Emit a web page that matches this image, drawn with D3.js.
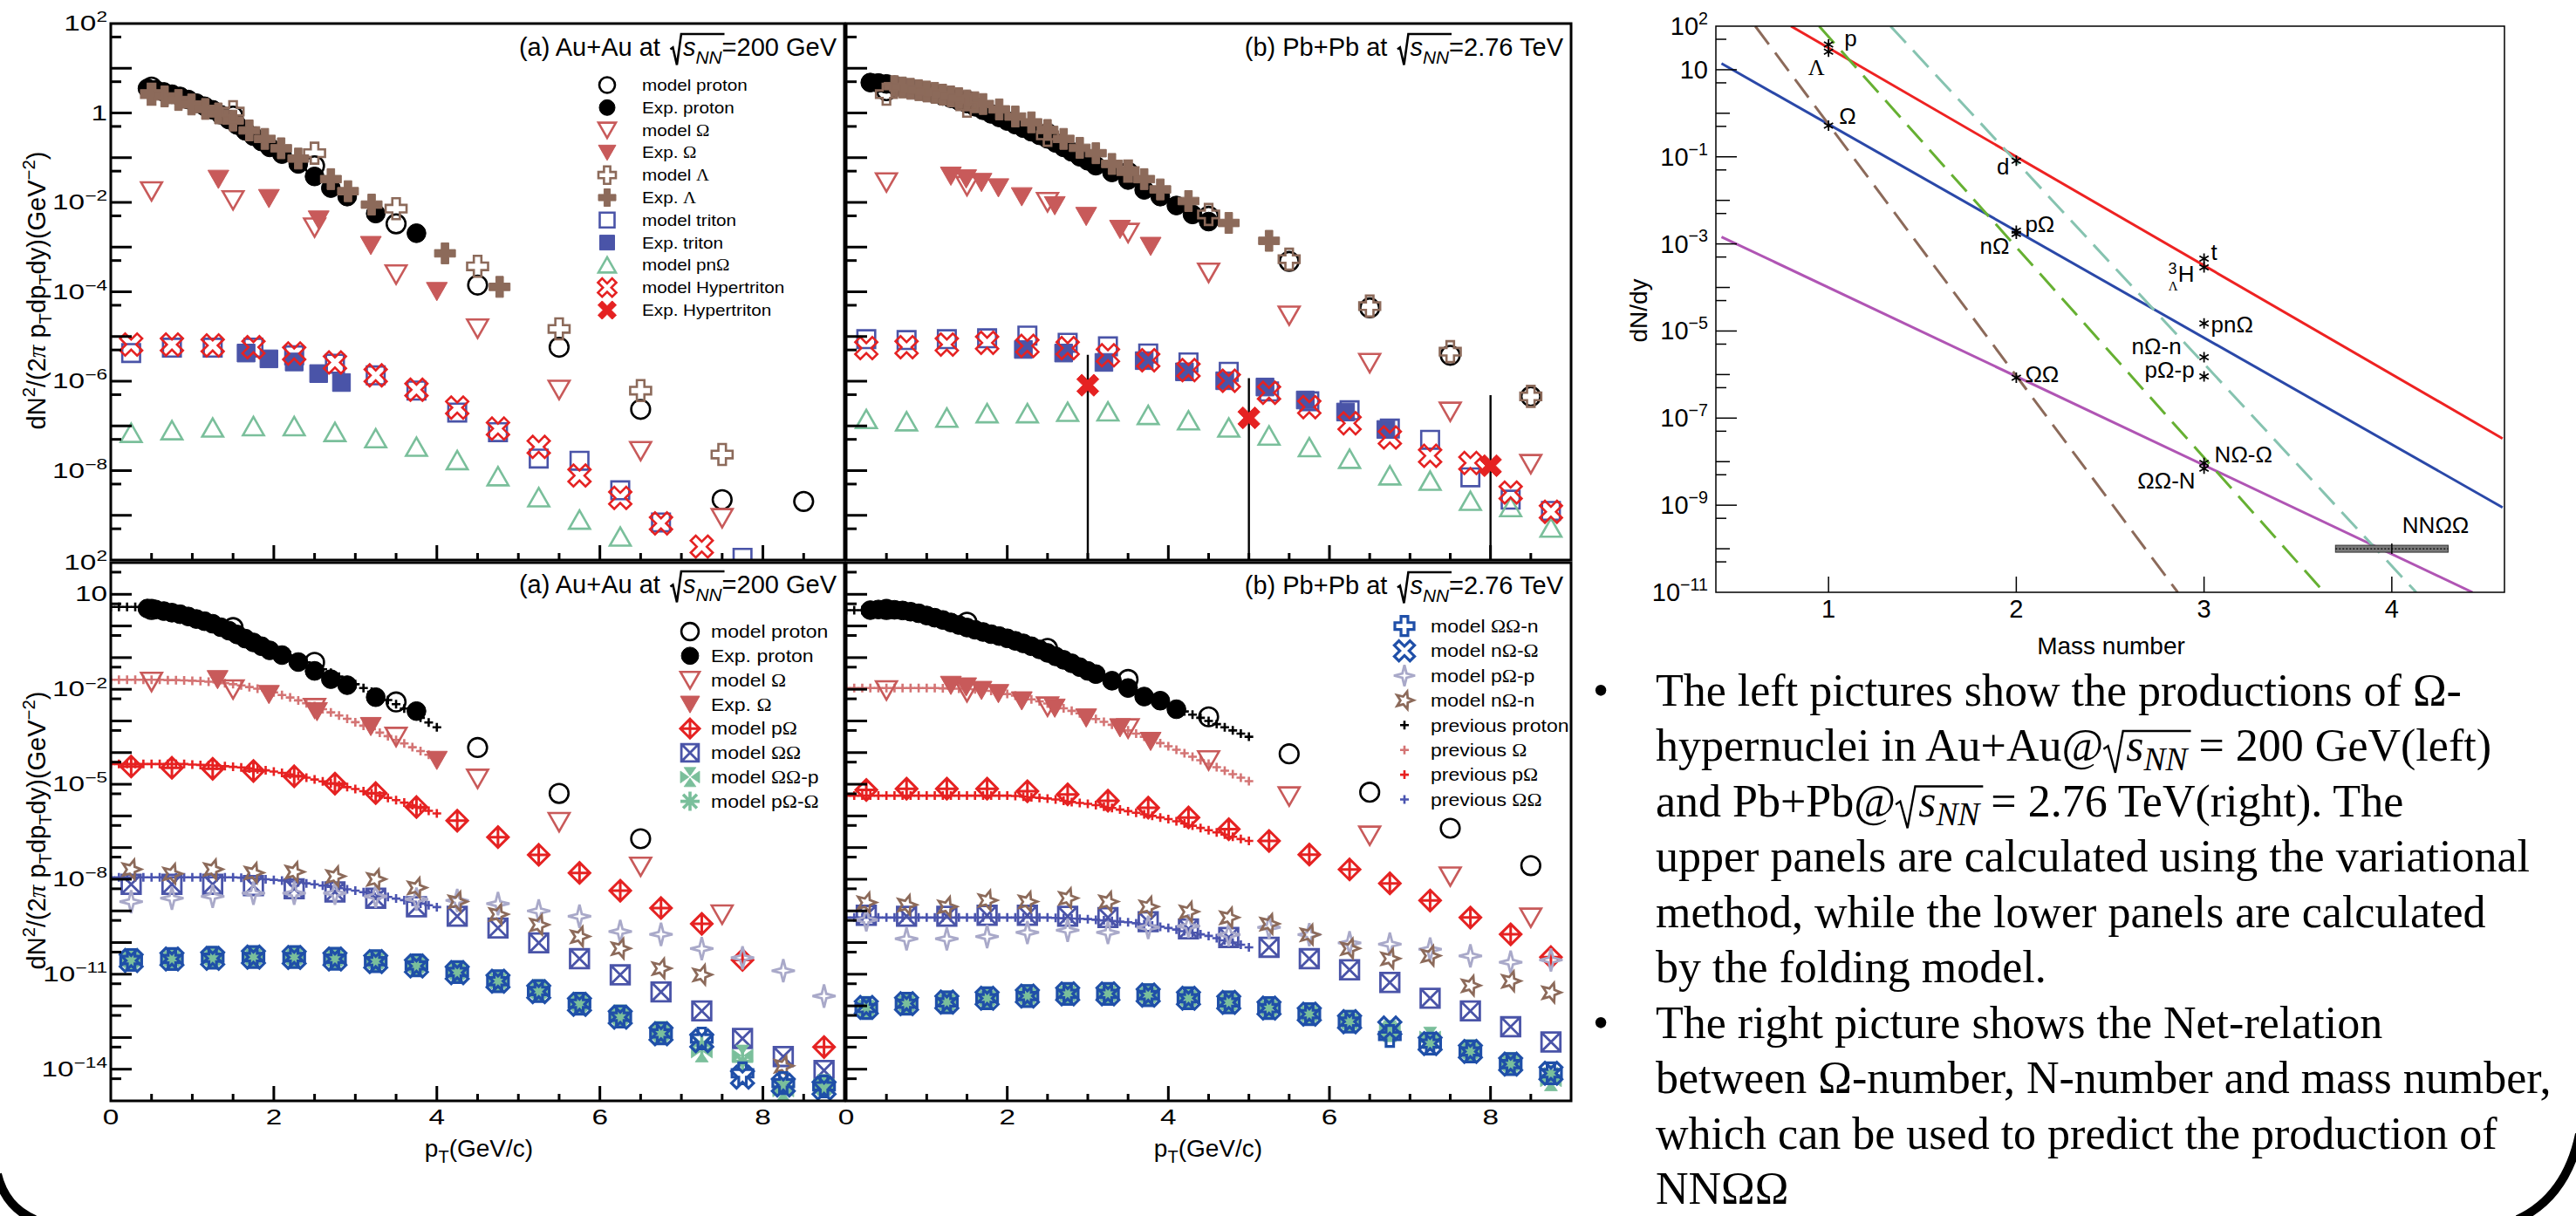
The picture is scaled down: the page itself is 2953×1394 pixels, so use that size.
<!DOCTYPE html>
<html lang="en">
<head>
<meta charset="utf-8">
<title>Omega hypernuclei spectra</title>
<script src="https://cdn.jsdelivr.net/npm/d3@7/dist/d3.min.js"></script>
<style>
  body { margin: 0; background: #fff; }
  text { font-family: "Liberation Sans", Arial, Helvetica, sans-serif; fill: #000; white-space: pre; }
</style>
</head>
<body>
<div id="viz"></div>
<script>
// all spectra values are log10(dN^2/(2 pi pT dpT dy))

var pt9 = [0.5, 1.5, 2.5, 3.5, 4.5, 5.5, 6.5, 7.5, 8.5];
var pt18 = [0.25, 0.75, 1.25, 1.75, 2.25, 2.75, 3.25, 3.75, 4.25, 4.75, 5.25, 5.75, 6.25, 6.75, 7.25, 7.75, 8.25, 8.75];
var ptPrevA = [0, 0.1, 0.2, 0.3, 0.4, 0.5, 0.6, 0.7, 0.8, 0.9, 1, 1.1, 1.2, 1.3, 1.4, 1.5, 1.6, 1.7, 1.8, 1.9, 2, 2.1, 2.2, 2.3, 2.4, 2.5, 2.6, 2.7, 2.8, 2.9, 3, 3.1, 3.2, 3.3, 3.4, 3.5, 3.6, 3.7, 3.8, 3.9, 4];
var ptPrevB = [0, 0.1, 0.2, 0.3, 0.4, 0.5, 0.6, 0.7, 0.8, 0.9, 1, 1.1, 1.2, 1.3, 1.4, 1.5, 1.6, 1.7, 1.8, 1.9, 2, 2.1, 2.2, 2.3, 2.4, 2.5, 2.6, 2.7, 2.8, 2.9, 3, 3.1, 3.2, 3.3, 3.4, 3.5, 3.6, 3.7, 3.8, 3.9, 4, 4.1, 4.2, 4.3, 4.4, 4.5, 4.6, 4.7, 4.8, 4.9, 5];

// (a) Au+Au, upper panel
var expProtonAuPt = [0.45, 0.55, 0.65, 0.75, 0.85, 0.95, 1.05, 1.15, 1.25, 1.35, 1.45, 1.55, 1.65, 1.75, 1.85, 1.95, 2.1, 2.3, 2.5, 2.7, 2.9, 3.25, 3.75];
var expProtonAu = [0.55, 0.52, 0.47, 0.42, 0.37, 0.30, 0.22, 0.15, 0.07, -0.04, -0.15, -0.27, -0.40, -0.52, -0.64, -0.77, -0.92, -1.14, -1.42, -1.68, -1.87, -2.25, -2.69];
var expLambdaAuPt = [0.5, 0.66, 0.83, 0.99, 1.16, 1.32, 1.5, 1.7, 1.89, 2.09, 2.3, 2.7, 2.91, 3.2, 4.1, 4.77];
var expLambdaAu = [0.43, 0.37, 0.29, 0.19, 0.09, -0.01, -0.17, -0.39, -0.58, -0.79, -1.02, -1.48, -1.75, -2.05, -3.14, -3.89];
var a1ModelProton = [0.58, -0.07, -1.18, -2.48, -3.85, -5.24, -6.63, -8.65, -8.69];
var a1ModelLambda = [0.42, 0.03, -0.90, -2.14, -3.43, -4.83, -6.21, -7.64];
var a1ModelOmega = [-1.75, -1.95, -2.56, -3.61, -4.82, -6.19, -7.56, -9.06];
var a1ExpOmegaPt = [1.32, 1.94, 2.55, 3.19, 4.0];
var a1ExpOmega = [-1.48, -1.91, -2.39, -2.96, -3.99];
var a1ModelTritonPt = [0.25, 0.75, 1.25, 1.75, 2.25, 2.75, 3.25, 3.75, 4.25, 4.75, 5.25, 5.75, 6.25, 6.75, 7.75];
var a1ModelTriton = [-5.37, -5.25, -5.25, -5.25, -5.42, -5.61, -5.87, -6.21, -6.70, -7.14, -7.73, -7.78, -8.44, -9.16, -9.95];
var a1ExpTritonPt = [1.66, 1.94, 2.25, 2.55, 2.83];
var a1ExpTriton = [-5.37, -5.50, -5.57, -5.83, -6.03];
var a1ModelHyper = [-5.18, -5.18, -5.20, -5.24, -5.38, -5.58, -5.87, -6.19, -6.59, -7.06, -7.47, -8.11, -8.61, -9.18, -9.70];
var a1ModelPnOmega = [-7.16, -7.10, -7.04, -7.01, -7.01, -7.14, -7.28, -7.47, -7.77, -8.13, -8.60, -9.10, -9.48];

// (b) Pb+Pb, upper panel
var b1ExpProtonPt = [0.3, 0.4, 0.5, 0.6, 0.7, 0.8, 0.9, 1.0, 1.1, 1.2, 1.3, 1.4, 1.5, 1.6, 1.7, 1.8, 1.9, 2.0, 2.1, 2.2, 2.3, 2.4, 2.5, 2.6, 2.7, 2.8, 2.9, 3.0, 3.1, 3.3, 3.5, 3.7, 3.9, 4.1, 4.3, 4.5];
var b1ExpProton = [0.68, 0.67, 0.65, 0.62, 0.58, 0.54, 0.51, 0.47, 0.43, 0.38, 0.33, 0.27, 0.21, 0.14, 0.06, -0.02, -0.10, -0.18, -0.26, -0.34, -0.42, -0.50, -0.58, -0.67, -0.77, -0.87, -0.98, -1.07, -1.18, -1.33, -1.50, -1.72, -1.87, -2.07, -2.27, -2.43];
var b1ExpLambdaPt = [0.6, 0.7, 0.8, 0.9, 1.0, 1.1, 1.2, 1.3, 1.4, 1.5, 1.6, 1.7, 1.9, 2.1, 2.3, 2.5, 2.7, 2.9, 3.1, 3.3, 3.5, 3.7, 3.9, 4.25, 4.75, 5.25];
var b1ExpLambda = [0.60, 0.57, 0.54, 0.51, 0.48, 0.45, 0.41, 0.37, 0.33, 0.28, 0.24, 0.20, 0.08, -0.08, -0.21, -0.38, -0.58, -0.78, -0.90, -1.14, -1.30, -1.48, -1.71, -1.97, -2.46, -2.86];
var b1ModelProton = [0.50, 0.27, -0.46, -1.33, -2.31, -3.32, -4.36, -5.42, -6.34];
var b1ModelLambda = [0.42, 0.15, -0.50, -1.30, -2.27, -3.27, -4.32, -5.34, -6.34];
var b1ModelOmega = [-1.55, -1.63, -1.99, -2.68, -3.57, -4.53, -5.59, -6.68, -7.85];
var b1ExpOmegaPt = [1.3, 1.49, 1.68, 1.89, 2.18, 2.59, 2.98, 3.4, 3.78];
var b1ExpOmega = [-1.41, -1.47, -1.55, -1.67, -1.87, -2.07, -2.31, -2.60, -2.98];
var b1ModelTriton = [-5.06, -5.08, -5.06, -5.04, -4.98, -5.14, -5.22, -5.38, -5.58, -5.79, -6.23, -6.45, -6.65, -7.06, -7.31, -8.15, -8.65, -8.90];
var b1ExpTritonPt = [2.2, 2.7, 3.2, 3.7, 4.2, 4.7, 5.2, 5.7, 6.2, 6.7];
var b1ExpTriton = [-5.29, -5.37, -5.58, -5.54, -5.79, -5.99, -6.13, -6.42, -6.69, -7.08];
var b1ModelHyper = [-5.26, -5.24, -5.18, -5.14, -5.21, -5.26, -5.42, -5.53, -5.75, -5.99, -6.26, -6.58, -6.94, -7.26, -7.67, -7.83, -8.49, -8.92];
var b1ExpHyperPt = [3.0, 5.0, 8.0];
var b1ExpHyper = [-6.09, -6.82, -7.89];
var b1ExpHyperHi = [-5.41, -5.93, -6.31];
var b1ExpHyperLo = [-12, -12, -12];
var b1ModelPnOmega = [-6.85, -6.90, -6.82, -6.72, -6.72, -6.69, -6.68, -6.76, -6.88, -7.04, -7.22, -7.48, -7.74, -8.11, -8.23, -8.68, -8.82, -9.28];

// (a) Au+Au, lower panel
var a2ModelProton = [0.52, -0.05, -1.15, -2.40, -3.84, -5.29, -6.72];
var a2ModelOmega = [-1.76, -2.00, -2.59, -3.50, -4.82, -6.19, -7.60, -9.11];
var a2ExpOmegaPt = [1.31, 1.94, 2.53, 3.19, 4.0];
var a2ExpOmega = [-1.69, -2.16, -2.70, -3.17, -4.24];
var a2POmegaPt = [0.25, 0.75, 1.25, 1.75, 2.25, 2.75, 3.25, 3.75, 4.25, 4.75, 5.25, 5.75, 6.25, 6.75, 7.25, 7.75, 8.75];
var a2POmega = [-4.44, -4.48, -4.51, -4.58, -4.75, -4.98, -5.28, -5.72, -6.15, -6.67, -7.23, -7.80, -8.36, -8.91, -9.41, -10.55, -13.3];
var a2OmegaOmega = [-8.16, -8.16, -8.16, -8.20, -8.30, -8.40, -8.60, -8.87, -9.17, -9.54, -10.01, -10.51, -11.02, -11.56, -12.16, -13.03, -13.60, -14.04];
var a2POmegaP = [-8.71, -8.60, -8.54, -8.44, -8.44, -8.44, -8.54, -8.63, -8.67, -8.77, -9.00, -9.17, -9.65, -9.74, -10.19, -10.48, -10.89, -11.69];
var a2NOmegaNPt = [0.25, 0.75, 1.25, 1.75, 2.25, 2.75, 3.25, 3.75, 4.25, 4.75, 5.25, 5.75, 6.25, 6.75, 7.25, 8.25];
var a2NOmegaN = [-7.69, -7.83, -7.69, -7.80, -7.77, -7.91, -8.00, -8.27, -8.71, -9.11, -9.44, -9.81, -10.19, -10.82, -11.02, -13.9];
var a2OOn = [-10.55, -10.52, -10.48, -10.46, -10.46, -10.51, -10.59, -10.72, -10.93, -11.22, -11.53, -11.93, -12.34, -12.87, -13.03, -14.13, -14.44, -14.54];
var a2NOO = [-10.57, -10.52, -10.50, -10.46, -10.47, -10.52, -10.60, -10.74, -10.95, -11.22, -11.55, -11.95, -12.36, -12.88, -13.10, -14.25, -14.50, -14.60];
var a2OOp = [-10.52, -10.50, -10.46, -10.44, -10.44, -10.49, -10.57, -10.70, -10.91, -11.20, -11.50, -11.90, -12.30, -12.82, -13.44, -13.57, -14.67, -14.50];
var a2POO = [-10.54, -10.51, -10.47, -10.45, -10.45, -10.50, -10.58, -10.71, -10.92, -11.21, -11.52, -11.92, -12.33, -12.85, -13.25, -13.75, -14.60, -14.55];
var a2PrevProton = [0.60, 0.60, 0.60, 0.60, 0.58, 0.55, 0.50, 0.45, 0.39, 0.32, 0.25, 0.17, 0.09, 0.00, -0.09, -0.18, -0.28, -0.38, -0.49, -0.60, -0.71, -0.82, -0.93, -1.04, -1.15, -1.26, -1.37, -1.48, -1.60, -1.72, -1.84, -1.96, -2.08, -2.21, -2.34, -2.47, -2.61, -2.75, -2.90, -3.05, -3.20];
var a2PrevOmega = [-1.70, -1.70, -1.70, -1.70, -1.70, -1.70, -1.70, -1.71, -1.71, -1.72, -1.73, -1.74, -1.76, -1.78, -1.81, -1.84, -1.88, -1.93, -1.98, -2.04, -2.10, -2.18, -2.26, -2.35, -2.44, -2.53, -2.63, -2.73, -2.83, -2.93, -3.04, -3.15, -3.26, -3.37, -3.48, -3.60, -3.71, -3.83, -3.95, -4.07, -4.18];
var a2PrevPOmega = [-4.36, -4.36, -4.36, -4.36, -4.36, -4.36, -4.36, -4.36, -4.36, -4.36, -4.38, -4.39, -4.40, -4.41, -4.43, -4.45, -4.47, -4.50, -4.53, -4.56, -4.60, -4.64, -4.69, -4.74, -4.79, -4.85, -4.91, -4.97, -5.03, -5.09, -5.15, -5.22, -5.29, -5.36, -5.43, -5.50, -5.58, -5.66, -5.75, -5.84, -5.92];
var a2PrevOO = [-7.94, -7.94, -7.94, -7.94, -7.94, -7.94, -7.94, -7.94, -7.94, -7.94, -7.94, -7.94, -7.94, -7.94, -7.94, -7.94, -7.95, -7.96, -7.98, -8.00, -8.02, -8.04, -8.07, -8.10, -8.13, -8.16, -8.20, -8.24, -8.28, -8.32, -8.36, -8.41, -8.46, -8.51, -8.56, -8.61, -8.66, -8.71, -8.77, -8.82, -8.88];

// (b) Pb+Pb, lower panel
var b2ExpProtonPt = [0.3, 0.4, 0.5, 0.6, 0.7, 0.8, 0.9, 1.0, 1.1, 1.2, 1.3, 1.4, 1.5, 1.6, 1.7, 1.8, 1.9, 2.0, 2.1, 2.2, 2.3, 2.4, 2.5, 2.6, 2.7, 2.8, 2.9, 3.0, 3.1, 3.3, 3.5, 3.7, 3.9, 4.1];
var b2ExpProton = [0.50, 0.52, 0.52, 0.51, 0.49, 0.45, 0.40, 0.33, 0.26, 0.19, 0.11, 0.03, -0.05, -0.12, -0.19, -0.26, -0.32, -0.39, -0.47, -0.55, -0.64, -0.74, -0.85, -0.96, -1.07, -1.18, -1.30, -1.42, -1.52, -1.73, -1.96, -2.23, -2.36, -2.63];
var b2ModelProton = [0.52, 0.12, -0.71, -1.69, -2.87, -4.04, -5.25, -6.39, -7.57];
var b2ModelOmega = [-2.03, -2.09, -2.54, -3.23, -4.24, -5.38, -6.62, -7.91, -9.21];
var b2ExpOmegaPt = [1.3, 1.49, 1.68, 1.89, 2.18, 2.59, 2.98, 3.4, 3.78];
var b2ExpOmega = [-1.87, -1.92, -2.03, -2.13, -2.36, -2.59, -2.90, -3.21, -3.64];
var b2POmega = [-5.18, -5.14, -5.14, -5.14, -5.22, -5.32, -5.52, -5.74, -6.05, -6.42, -6.79, -7.22, -7.69, -8.13, -8.67, -9.21, -9.74, -10.46];
var b2OmegaOmega = [-9.14, -9.17, -9.17, -9.14, -9.14, -9.17, -9.21, -9.34, -9.57, -9.84, -10.15, -10.51, -10.86, -11.26, -11.76, -12.16, -12.66, -13.14];
var b2POmegaP = [-9.28, -9.88, -9.88, -9.81, -9.68, -9.61, -9.68, -9.52, -9.48, -9.75, -9.52, -9.75, -10.01, -10.05, -10.21, -10.42, -10.62, -10.55];
var b2NOmegaN = [-8.74, -8.81, -8.87, -8.67, -8.71, -8.60, -8.71, -8.87, -9.03, -9.21, -9.41, -9.75, -10.19, -10.51, -10.42, -11.36, -11.22, -11.58];
var b2OOn = [-12.07, -11.93, -11.89, -11.76, -11.69, -11.62, -11.62, -11.66, -11.76, -11.89, -12.07, -12.26, -12.50, -12.95, -13.19, -13.44, -13.84, -14.13];
var b2NOO = [-12.05, -11.93, -11.88, -11.76, -11.69, -11.62, -11.62, -11.66, -11.76, -11.89, -12.07, -12.26, -12.50, -12.70, -13.19, -13.44, -13.84, -14.13];
var b2OOp = [-12.03, -11.90, -11.86, -11.73, -11.66, -11.60, -11.60, -11.63, -11.73, -11.86, -12.04, -12.23, -12.47, -12.80, -13.00, -13.40, -13.80, -14.35];
var b2POO = [-12.06, -11.92, -11.88, -11.75, -11.68, -11.61, -11.61, -11.65, -11.75, -11.88, -12.06, -12.25, -12.49, -12.78, -13.10, -13.42, -13.82, -14.20];
var b2PrevProton = [0.50, 0.50, 0.50, 0.50, 0.50, 0.50, 0.49, 0.47, 0.44, 0.40, 0.35, 0.29, 0.22, 0.15, 0.08, 0.00, -0.08, -0.16, -0.24, -0.32, -0.41, -0.50, -0.59, -0.68, -0.78, -0.88, -0.98, -1.08, -1.18, -1.28, -1.39, -1.50, -1.60, -1.71, -1.82, -1.93, -2.04, -2.15, -2.26, -2.37, -2.48, -2.59, -2.70, -2.80, -2.90, -3.00, -3.10, -3.20, -3.30, -3.40, -3.50];
var b2PrevOmega = [-1.96, -1.96, -1.96, -1.96, -1.96, -1.96, -1.96, -1.96, -1.96, -1.96, -1.96, -1.96, -1.97, -1.97, -1.98, -1.98, -2.00, -2.02, -2.05, -2.10, -2.15, -2.20, -2.26, -2.32, -2.38, -2.45, -2.52, -2.60, -2.68, -2.76, -2.85, -2.94, -3.03, -3.12, -3.21, -3.30, -3.40, -3.50, -3.60, -3.70, -3.80, -3.91, -4.02, -4.13, -4.24, -4.35, -4.46, -4.57, -4.68, -4.79, -4.90];
var b2PrevPOmega = [-5.36, -5.36, -5.36, -5.36, -5.36, -5.36, -5.36, -5.36, -5.36, -5.36, -5.36, -5.36, -5.36, -5.36, -5.36, -5.36, -5.36, -5.36, -5.36, -5.36, -5.36, -5.37, -5.39, -5.41, -5.43, -5.45, -5.48, -5.52, -5.56, -5.59, -5.62, -5.66, -5.71, -5.75, -5.80, -5.85, -5.90, -5.95, -6.00, -6.05, -6.10, -6.17, -6.24, -6.31, -6.38, -6.45, -6.52, -6.59, -6.66, -6.73, -6.79];
var b2PrevOO = [-9.21, -9.21, -9.21, -9.21, -9.21, -9.21, -9.21, -9.21, -9.21, -9.21, -9.21, -9.21, -9.21, -9.21, -9.21, -9.21, -9.21, -9.21, -9.21, -9.21, -9.21, -9.21, -9.21, -9.21, -9.21, -9.21, -9.22, -9.23, -9.24, -9.25, -9.26, -9.28, -9.30, -9.32, -9.34, -9.36, -9.39, -9.42, -9.46, -9.50, -9.54, -9.59, -9.64, -9.69, -9.74, -9.79, -9.86, -9.93, -10.00, -10.07, -10.15];

// right picture: dN/dy against mass number
var fitRed = [[0.80, 1e2], [4.59, 3.4e-8]];
var fitBlue = [[0.43, 13.9], [4.59, 8.9e-10]];
var fitPurple = [[0.43, 1.45e-3], [4.43, 1e-11]];
var dashBrown = [[0.61, 1e2], [2.86, 1e-11]];
var dashGreen = [[0.95, 1e2], [3.64, 1e-11]];
var dashTeal = [[1.33, 1e2], [4.13, 1e-11]];
var nucleusMass = [1, 1, 1, 2, 2, 2, 3, 3, 3, 3, 3, 2, 3, 3, 4];
var nucleusYield = [38, 26, 0.52, 0.081, 2.0e-3, 1.7e-3, 4.6e-4, 2.9e-4, 1.5e-5, 2.5e-6, 9.1e-7, 8.5e-7, 9.3e-9, 6.9e-9, 1e-10];
var nucleusName = ['p', 'Λ', 'Ω', 'd', 'pΩ', 'nΩ', 't', 'H', 'pnΩ', 'nΩ-n', 'pΩ-p', 'ΩΩ', 'NΩ-Ω', 'ΩΩ-N', 'NNΩΩ'];
var nnooRange = [3.7, 4.3];

var upperExps = [2, 0, -2, -4, -6, -8];
var lowerExps = [2, 1, -2, -5, -8, -11, -14];
var massExps = [2, 1, -1, -3, -5, -7, -9, -11];
var ptLabels = [0, 2, 4, 6, 8];
var massLabels = [1, 2, 3, 4];

var legendA1 = [['model proton', 'protonModel'], ['Exp. proton', 'protonExp'], ['model Ω', 'omegaModel'], ['Exp. Ω', 'omegaExp'], ['model Λ', 'lambdaModel'], ['Exp. Λ', 'lambdaExp'], ['model triton', 'tritonModel'], ['Exp. triton', 'tritonExp'], ['model pnΩ', 'pnOmega'], ['model Hypertriton', 'hyperModel'], ['Exp. Hypertriton', 'hyperExp']];
var legendA2 = [['model proton', 'protonModel'], ['Exp. proton', 'protonExp'], ['model Ω', 'omegaModel'], ['Exp. Ω', 'omegaExp'], ['model pΩ', 'pOmega'], ['model ΩΩ', 'omegaOmega'], ['model ΩΩ-p', 'oop'], ['model pΩ-Ω', 'poo']];
var legendB2 = [['model ΩΩ-n', 'oon'], ['model nΩ-Ω', 'noo'], ['model pΩ-p', 'pop'], ['model nΩ-n', 'non'], ['previous proton', 'prevProton'], ['previous Ω', 'prevOmega'], ['previous pΩ', 'prevPOmega'], ['previous ΩΩ', 'prevOO']];

var noteLines = ['The left pictures show the productions of Ω-', 'hypernuclei in Au+Au@|| = 200 GeV(left)', 'and Pb+Pb@|| = 2.76 TeV(right). The', 'upper panels are calculated using the variational', 'method, while the lower panels are calculated', 'by the folding model.', 'The right picture shows the Net-relation', 'between Ω-number, N-number and mass number,', 'which can be used to predict the production of', 'NNΩΩ'];
var noteBullets = [0, 6];

var SERIF = '"Liberation Serif", "Times New Roman", serif';
var cOmega = '#c85a5a', cLambda = '#8c6a5a', cTriton = '#4a54a8', cGreen = '#7abf9b',
    cRed = '#e52222', cBlue = '#1f4fa8', cLav = '#a9a9c9';

var svg = d3.select('#viz').append('svg').attr('width', 2953).attr('height', 1394).style('display', 'block');
var defs = svg.append('defs');

// ---- marker shapes ----
function pts(list) { return 'M' + list.map(function(p) { return p[0].toFixed(2) + ',' + p[1].toFixed(2); }).join('L') + 'Z'; }
function rot(list, deg) {
  var a = deg * Math.PI / 180, c = Math.cos(a), s = Math.sin(a);
  return list.map(function(p) { return [p[0] * c - p[1] * s, p[0] * s + p[1] * c]; });
}
function plusPts(r, a) { return [[-a, -r], [a, -r], [a, -a], [r, -a], [r, a], [a, a], [a, r], [-a, r], [-a, a], [-r, a], [-r, -a], [-a, -a]]; }
var shapes = {
  circle: function(r) { r = r * 0.9; return 'M' + (-r) + ',0A' + r + ',' + r + ' 0 1,0 ' + r + ',0A' + r + ',' + r + ' 0 1,0 ' + (-r) + ',0Z'; },
  triDown: function(r) { return pts([[-r, -r * 0.85], [r, -r * 0.85], [0, r * 0.9]]); },
  triUp: function(r) { return pts([[-r, r * 0.85], [r, r * 0.85], [0, -r * 0.9]]); },
  square: function(r) { var q = r * 0.85; return pts([[-q, -q], [q, -q], [q, q], [-q, q]]); },
  squareX: function(r) { var q = r * 0.9; return pts([[-q, -q], [q, -q], [q, q], [-q, q]]) + 'M' + (-q) + ',' + (-q) + 'L' + q + ',' + q + 'M' + q + ',' + (-q) + 'L' + (-q) + ',' + q; },
  plus: function(r) { return pts(plusPts(r, r * 0.36)); },
  cross: function(r) { return pts(rot(plusPts(r * 1.15, r * 0.34), 45)); },
  diamondCross: function(r) { return pts([[0, -r], [r, 0], [0, r], [-r, 0]]) + 'M0,' + (-r) + 'V' + r + 'M' + (-r) + ',0H' + r; },
  maltese: function(r) { return [0, 90, 180, 270].map(function(d) { return pts(rot([[0, -r * 0.12], [-r * 0.62, -r], [r * 0.62, -r]], d)); }).join(''); },
  asterisk: function(r) { var k = r * 0.72; return 'M0,' + (-r) + 'V' + r + 'M' + (-r) + ',0H' + r + 'M' + (-k) + ',' + (-k) + 'L' + k + ',' + k + 'M' + k + ',' + (-k) + 'L' + (-k) + ',' + k; },
  star4: function(r) { r = r * 1.1; var k = r * 0.2; return pts([[0, -r], [k, -k], [r, 0], [k, k], [0, r], [-k, k], [-r, 0], [-k, -k]]); },
  star5: function(r) {
    var l = [];
    for (var i = 0; i < 10; i++) { var rr = i % 2 ? r * 0.42 : r * 0.95, a = Math.PI * i / 5 - Math.PI / 2 + 0.3; l.push([rr * Math.cos(a), rr * Math.sin(a)]); }
    return pts(l);
  },
  smallPlus: function(r) { return 'M' + (-r) + ',0H' + r + 'M0,' + (-r) + 'V' + r; },
  aster6: function(r) { var k = r * 0.87, h = r * 0.5; return 'M0,' + (-r) + 'V' + r + 'M' + (-k) + ',' + (-h) + 'L' + k + ',' + h + 'M' + k + ',' + (-h) + 'L' + (-k) + ',' + h; }
};
var styles = {
  protonModel: { shape: 'circle', fill: 'none', stroke: '#000', sw: 2.6 },
  protonExp: { shape: 'circle', fill: '#000', stroke: '#000', sw: 1 },
  omegaModel: { shape: 'triDown', fill: 'none', stroke: cOmega, sw: 2.6 },
  omegaExp: { shape: 'triDown', fill: cOmega, stroke: cOmega, sw: 1 },
  lambdaModel: { shape: 'plus', fill: 'none', stroke: cLambda, sw: 2.6 },
  lambdaExp: { shape: 'plus', fill: cLambda, stroke: cLambda, sw: 1 },
  tritonModel: { shape: 'square', fill: 'none', stroke: cTriton, sw: 2.6 },
  tritonExp: { shape: 'square', fill: cTriton, stroke: cTriton, sw: 1 },
  pnOmega: { shape: 'triUp', fill: 'none', stroke: cGreen, sw: 2.6 },
  hyperModel: { shape: 'cross', fill: 'none', stroke: cRed, sw: 2.6 },
  hyperExp: { shape: 'cross', fill: cRed, stroke: cRed, sw: 1 },
  pOmega: { shape: 'diamondCross', fill: 'none', stroke: cRed, sw: 3 },
  omegaOmega: { shape: 'squareX', fill: 'none', stroke: cTriton, sw: 2.8 },
  oop: { shape: 'maltese', fill: cGreen, stroke: cGreen, sw: 0.8 },
  poo: { shape: 'asterisk', fill: 'none', stroke: cGreen, sw: 3.6 },
  oon: { shape: 'plus', fill: 'none', stroke: cBlue, sw: 3.2 },
  noo: { shape: 'cross', fill: 'none', stroke: cBlue, sw: 3.2 },
  pop: { shape: 'star4', fill: 'none', stroke: cLav, sw: 2.8 },
  non: { shape: 'star5', fill: 'none', stroke: cLambda, sw: 2.8 },
  prevProton: { shape: 'smallPlus', fill: 'none', stroke: '#000', sw: 2.6, r: 5 },
  prevOmega: { shape: 'smallPlus', fill: 'none', stroke: '#d47474', sw: 2.6, r: 5 },
  prevPOmega: { shape: 'smallPlus', fill: 'none', stroke: '#e82020', sw: 2.6, r: 5 },
  prevOO: { shape: 'smallPlus', fill: 'none', stroke: '#4a54b0', sw: 2.6, r: 5 }
};

function marker(g, x, y, key, r) {
  var st = styles[key];
  return g.append('path')
    .attr('transform', 'translate(' + x + ',' + y + ')')
    .attr('d', shapes[st.shape](st.r || r || 12))
    .attr('fill', st.fill).attr('stroke', st.stroke).attr('stroke-width', st.sw);
}

function series(p, xs, vals, key, r) {
  var st = styles[key];
  var data = vals.map(function(v, i) { return [xs[i], Math.pow(10, v)]; });
  p.plot.append('g').selectAll('path').data(data).join('path')
    .attr('transform', function(d) { return 'translate(' + p.sx(d[0]) + ',' + p.sy(d[1]) + ')'; })
    .attr('d', shapes[st.shape](st.r || r || 12))
    .attr('fill', st.fill).attr('stroke', st.stroke).attr('stroke-width', st.sw);
}

// ---- text helpers ----
function richText(t, str) {
  str.split(/([ΩΛπ]+)/).forEach(function(s) {
    if (!s) return;
    var sp = t.append('tspan').text(s);
    if (/[ΩΛπ]/.test(s)) sp.style('font-family', SERIF);
  });
}
function label(g, x, y, str, o) {
  o = o || {};
  var t = g.append('text')
    .attr('transform', 'translate(' + x + ',' + y + ')' + (o.sx ? ' scale(' + o.sx + ',1)' : ''))
    .attr('text-anchor', o.anchor || 'start')
    .style('font-size', (o.size || 20) + 'px');
  if (o.family) t.style('font-family', o.family);
  if (str != null) { if (o.rich) richText(t, str); else t.text(str); }
  return t;
}
function powText(g, x, y, e, size, sx) {
  var t = label(g, x, y, null, { anchor: 'end', size: size, sx: sx });
  if (e === 0) t.text('1');
  else if (e === 1) t.text('10');
  else {
    t.append('tspan').text('10');
    t.append('tspan').attr('dy', -size * 0.42).style('font-size', (size * 0.68) + 'px').text(e < 0 ? '\u2212' + (-e) : String(e));
  }
}
// text with a square root over s_NN
function rootText(g, x, y, before, after, o) {
  var fs = o.size;
  var t = g.append('text').attr('x', x).attr('y', y).attr('text-anchor', o.anchor).style('font-size', fs + 'px');
  if (o.family) t.style('font-family', o.family);
  t.append('tspan').text(before);
  var sT = t.append('tspan').attr('dx', fs * o.gap).style('font-style', 'italic').text('s');
  var nT = t.append('tspan').attr('dy', fs * o.sub).style('font-size', (fs * 0.72) + 'px').style('font-style', 'italic').text('NN');
  t.append('tspan').attr('dy', -fs * o.sub).text(after);
  var bs = sT.node().getBBox(), bn = nT.node().getBBox();
  var sx = bs.x, ex = bn.x + bn.width, top = y - fs * o.top, bot = y + fs * o.bot;
  g.append('path')
    .attr('d', 'M' + (sx - fs * 0.5) + ',' + (y - fs * 0.26) + 'L' + (sx - fs * 0.4) + ',' + (y - fs * 0.33) +
      'L' + (sx - fs * 0.24) + ',' + bot + 'L' + (sx - fs * 0.07) + ',' + top + 'L' + (ex + 2) + ',' + top)
    .attr('fill', 'none').attr('stroke', '#000').attr('stroke-width', o.thick).attr('stroke-linejoin', 'miter');
}

// ---- panels ----
function makePanel(key, sx, sy) {
  var x0 = sx.range()[0], x1 = sx.range()[1], y0 = sy.range()[1], y1 = sy.range()[0];
  defs.append('clipPath').attr('id', 'clip-' + key).append('rect')
    .attr('x', x0).attr('y', y0).attr('width', x1 - x0).attr('height', y1 - y0);
  var g = svg.append('g');
  var plot = g.append('g').attr('clip-path', 'url(#clip-' + key + ')');
  return { g: g, plot: plot, sx: sx, sy: sy, x0: x0, x1: x1, y0: y0, y1: y1 };
}

function drawAxes(p, yExps, xLabels) {
  var ax = p.g.append('g').attr('stroke', '#000').attr('stroke-width', 3);
  var dom = p.sy.domain();
  var e0 = Math.round(Math.log10(dom[0])), e1 = Math.round(Math.log10(dom[1]));
  for (var e = e0; e <= e1 + 1; e++) {
    var v = Math.pow(10, e), h = 5 * Math.pow(10, e - 1);
    if (v > dom[0] * 1.01 && v < dom[1] * 0.99)
      ax.append('line').attr('x1', p.x0).attr('x2', p.x0 + 24).attr('y1', p.sy(v)).attr('y2', p.sy(v));
    if (h > dom[0] && h < dom[1])
      ax.append('line').attr('x1', p.x0).attr('x2', p.x0 + 12).attr('y1', p.sy(h)).attr('y2', p.sy(h));
  }
  d3.range(0.5, 9, 0.5).forEach(function(t) {
    var len = t % 2 === 0 ? 17 : 8;
    ax.append('line').attr('x1', p.sx(t)).attr('x2', p.sx(t)).attr('y1', p.y1).attr('y2', p.y1 - len);
  });
  p.g.append('rect').attr('x', p.x0).attr('y', p.y0).attr('width', p.x1 - p.x0).attr('height', p.y1 - p.y0)
    .attr('fill', 'none').attr('stroke', '#000').attr('stroke-width', 3);
  if (yExps) yExps.forEach(function(e) { powText(p.g, p.x0 - 4, p.sy(Math.pow(10, e)) + 8, e, 23, 1.45); });
  if (xLabels) xLabels.forEach(function(t) { label(p.g, p.sx(t), 1289, String(t), { anchor: 'middle', size: 23, sx: 1.45 }); });
}

function legend(g, x, tx, y0, dy, entries, size, r) {
  entries.forEach(function(en, i) {
    var y = y0 + i * dy;
    marker(g, x, y, en[1], r);
    label(g, tx, y + size * 0.36, en[0], { size: size, sx: 1.15, rich: true });
  });
}

function yTitle(x, y) {
  var size = 29, sup = size * 0.4, sub = size * 0.25, small = (size * 0.7) + 'px';
  var t = svg.append('text').attr('transform', 'translate(' + x + ',' + y + ') rotate(-90)')
    .attr('text-anchor', 'middle').style('font-size', size + 'px');
  t.append('tspan').text('dN');
  t.append('tspan').attr('dy', -sup).style('font-size', small).text('2');
  t.append('tspan').attr('dy', sup).text('/(2');
  t.append('tspan').style('font-family', SERIF).style('font-style', 'italic').text('\u03c0');
  t.append('tspan').text(' p');
  t.append('tspan').attr('dy', sub).style('font-size', small).text('T');
  t.append('tspan').attr('dy', -sub).text('dp');
  t.append('tspan').attr('dy', sub).style('font-size', small).text('T');
  t.append('tspan').attr('dy', -sub).text('dy)(GeV');
  t.append('tspan').attr('dy', -sup).style('font-size', small).text('\u22122');
  t.append('tspan').attr('dy', sup).text(')');
}
function xTitle(cx) {
  var t = svg.append('text').attr('x', cx).attr('y', 1326).attr('text-anchor', 'middle').style('font-size', '28px');
  t.append('tspan').text('p');
  t.append('tspan').attr('dy', 7).style('font-size', '20px').text('T');
  t.append('tspan').attr('dy', -7).text('(GeV/c)');
}

var xLeft = d3.scaleLinear().domain([0, 9]).range([127, 968]);
var xRight = d3.scaleLinear().domain([0, 9]).range([970, 1801]);
var yUpper = d3.scaleLog().domain([1e-10, 1e2]).range([642, 27]);
var yLower = d3.scaleLog().domain([1e-15, 1e2]).range([1262, 645]);
var titleOpt = { size: 29, anchor: 'end', gap: 0.62, sub: 0.3, top: 0.86, bot: 0.36, thick: 2.6 };

// (a) upper
var A1 = makePanel('a1', xLeft, yUpper);
series(A1, expProtonAuPt, expProtonAu, 'protonExp');
series(A1, pt9, a1ModelProton, 'protonModel');
series(A1, expLambdaAuPt, expLambdaAu, 'lambdaExp');
series(A1, pt9, a1ModelLambda, 'lambdaModel');
series(A1, pt9, a1ModelOmega, 'omegaModel');
series(A1, a1ExpOmegaPt, a1ExpOmega, 'omegaExp');
series(A1, a1ModelTritonPt, a1ModelTriton, 'tritonModel');
series(A1, a1ExpTritonPt, a1ExpTriton, 'tritonExp');
series(A1, pt18, a1ModelPnOmega, 'pnOmega');
series(A1, pt18, a1ModelHyper, 'hyperModel');
drawAxes(A1, upperExps, null);
rootText(A1.g, 959, 64, '(a) Au+Au at ', '=200 GeV', titleOpt);
legend(A1.g, 696, 736, 97.5, 25.8, legendA1, 18, 10);

// (b) upper
var B1 = makePanel('b1', xRight, yUpper);
series(B1, b1ExpProtonPt, b1ExpProton, 'protonExp');
series(B1, pt9, b1ModelProton, 'protonModel');
series(B1, b1ExpLambdaPt, b1ExpLambda, 'lambdaExp');
series(B1, pt9, b1ModelLambda, 'lambdaModel');
series(B1, pt9, b1ModelOmega, 'omegaModel');
series(B1, b1ExpOmegaPt, b1ExpOmega, 'omegaExp');
series(B1, pt18, b1ModelTriton, 'tritonModel');
series(B1, b1ExpTritonPt, b1ExpTriton, 'tritonExp');
series(B1, pt18, b1ModelPnOmega, 'pnOmega');
series(B1, pt18, b1ModelHyper, 'hyperModel');
B1.plot.append('g').selectAll('line').data(b1ExpHyperPt).join('line')
  .attr('x1', function(d) { return B1.sx(d); }).attr('x2', function(d) { return B1.sx(d); })
  .attr('y1', function(d, i) { return B1.sy(Math.pow(10, b1ExpHyperHi[i])); })
  .attr('y2', function(d, i) { return B1.sy(Math.pow(10, b1ExpHyperLo[i])); })
  .attr('stroke', '#000').attr('stroke-width', 2.4);
series(B1, b1ExpHyperPt, b1ExpHyper, 'hyperExp');
drawAxes(B1, null, null);
rootText(B1.g, 1792, 64, '(b) Pb+Pb at ', '=2.76 TeV', titleOpt);

// (a) lower
var A2 = makePanel('a2', xLeft, yLower);
series(A2, ptPrevA, a2PrevProton, 'prevProton');
series(A2, ptPrevA, a2PrevOmega, 'prevOmega');
series(A2, ptPrevA, a2PrevPOmega, 'prevPOmega');
series(A2, ptPrevA, a2PrevOO, 'prevOO');
series(A2, expProtonAuPt, expProtonAu, 'protonExp');
series(A2, pt9, a2ModelProton, 'protonModel');
series(A2, pt9, a2ModelOmega, 'omegaModel');
series(A2, a2ExpOmegaPt, a2ExpOmega, 'omegaExp');
series(A2, a2POmegaPt, a2POmega, 'pOmega');
series(A2, pt18, a2OmegaOmega, 'omegaOmega');
series(A2, pt18, a2POmegaP, 'pop');
series(A2, a2NOmegaNPt, a2NOmegaN, 'non');
series(A2, pt18, a2OOp, 'oop');
series(A2, pt18, a2POO, 'poo');
series(A2, pt18, a2OOn, 'oon');
series(A2, pt18, a2NOO, 'noo');
drawAxes(A2, lowerExps, ptLabels);
rootText(A2.g, 959, 680, '(a) Au+Au at ', '=200 GeV', titleOpt);
legend(A2.g, 791, 815, 724, 27.8, legendA2, 20, 11);

// (b) lower
var B2 = makePanel('b2', xRight, yLower);
series(B2, ptPrevB, b2PrevProton, 'prevProton');
series(B2, ptPrevB, b2PrevOmega, 'prevOmega');
series(B2, ptPrevB, b2PrevPOmega, 'prevPOmega');
series(B2, ptPrevB, b2PrevOO, 'prevOO');
series(B2, b2ExpProtonPt, b2ExpProton, 'protonExp');
series(B2, pt9, b2ModelProton, 'protonModel');
series(B2, pt9, b2ModelOmega, 'omegaModel');
series(B2, b2ExpOmegaPt, b2ExpOmega, 'omegaExp');
series(B2, pt18, b2POmega, 'pOmega');
series(B2, pt18, b2OmegaOmega, 'omegaOmega');
series(B2, pt18, b2POmegaP, 'pop');
series(B2, pt18, b2NOmegaN, 'non');
series(B2, pt18, b2OOp, 'oop');
series(B2, pt18, b2POO, 'poo');
series(B2, pt18, b2OOn, 'oon');
series(B2, pt18, b2NOO, 'noo');
drawAxes(B2, null, ptLabels);
rootText(B2.g, 1792, 681, '(b) Pb+Pb at ', '=2.76 TeV', titleOpt);
legend(B2.g, 1610, 1640, 717.7, 28.4, legendB2, 20, 11);

yTitle(52, 333);
yTitle(52, 952);
xTitle(549);
xTitle(1385);

// ---- right picture ----
var xM = d3.scaleLinear().domain([0.4, 4.6]).range([1967, 2871]);
var yM = d3.scaleLog().domain([1e-11, 1e2]).range([679, 30]);
defs.append('clipPath').attr('id', 'clip-m').append('rect').attr('x', 1967).attr('y', 30).attr('width', 904).attr('height', 649);
var gm = svg.append('g');
var pm = gm.append('g').attr('clip-path', 'url(#clip-m)');
var line = d3.line().x(function(d) { return xM(d[0]); }).y(function(d) { return yM(d[1]); });
[[fitRed, '#ee2222', null], [fitBlue, '#2a48a8', null], [fitPurple, '#b055b4', null],
 [dashBrown, '#8c6a5a', '26,12'], [dashGreen, '#66b032', '26,12'], [dashTeal, '#86c3b0', '26,12']].forEach(function(l) {
  pm.append('path').attr('d', line(l[0])).attr('fill', 'none').attr('stroke', l[1]).attr('stroke-width', 3)
    .attr('stroke-dasharray', l[2]);
});
// NN Omega Omega band
pm.append('rect').attr('x', xM(nnooRange[0])).attr('width', xM(nnooRange[1]) - xM(nnooRange[0]))
  .attr('y', yM(nucleusYield[14]) - 4).attr('height', 8).attr('fill', '#7a7a7a').attr('stroke', '#333').attr('stroke-width', 1);
pm.append('line').attr('x1', xM(nnooRange[0])).attr('x2', xM(nnooRange[1]))
  .attr('y1', yM(nucleusYield[14])).attr('y2', yM(nucleusYield[14])).attr('stroke', '#000').attr('stroke-width', 1.2).attr('stroke-dasharray', '2,2');
pm.append('line').attr('x1', xM(4)).attr('x2', xM(4)).attr('y1', yM(nucleusYield[14]) - 6).attr('y2', yM(nucleusYield[14]) + 6)
  .attr('stroke', '#000').attr('stroke-width', 1.5);
pm.append('g').selectAll('path').data(nucleusMass.slice(0, 14)).join('path')
  .attr('transform', function(d, i) { return 'translate(' + xM(d) + ',' + yM(nucleusYield[i]) + ')'; })
  .attr('d', shapes.aster6(6)).attr('fill', 'none').attr('stroke', '#000').attr('stroke-width', 1.8);

// labels next to the points (pixel offsets and anchors)
var nameOffset = [[18, 2, 'start'], [-14, 27, 'middle'], [12, -2, 'start'], [-8, 16, 'end'], [10, 1, 'start'], [-8, 23, 'end'],
  [8, 2, 'start'], [-11, 17, 'end'], [8, 10, 'start'], [-26, -4, 'end'], [-11, 2, 'end'], [10, 5, 'start'], [12, -1, 'start'], [-10, 23, 'end'], [12, -18, 'start']];
nucleusName.forEach(function(n, i) {
  var x = xM(nucleusMass[i]) + nameOffset[i][0], y = yM(nucleusYield[i]) + nameOffset[i][1];
  var t = gm.append('text').attr('x', x).attr('y', y).attr('text-anchor', nameOffset[i][2]).style('font-size', '26px');
  if (n === 'Λ') t.style('font-family', SERIF);
  t.text(n);
  if (n === 'H') {
    gm.append('text').attr('x', x - 20).attr('y', y - 9).attr('text-anchor', 'end').style('font-size', '18px').text('3');
    gm.append('text').attr('x', x - 19).attr('y', y + 10).attr('text-anchor', 'end').style('font-size', '15px').style('font-family', SERIF).text('Λ');
  }
});

var am = gm.append('g').attr('stroke', '#000').attr('stroke-width', 1.5);
for (var e = -11; e <= 2; e++) {
  var v = Math.pow(10, e), h = 5 * Math.pow(10, e - 1);
  var long = massExps.indexOf(e) >= 0;
  if (e > -11 && e < 2) am.append('line').attr('x1', 1967).attr('x2', 1967 + (long ? 24 : 16)).attr('y1', yM(v)).attr('y2', yM(v));
  if (h > 1e-11 && h < 1e2) am.append('line').attr('x1', 1967).attr('x2', 1979).attr('y1', yM(h)).attr('y2', yM(h));
}
massLabels.forEach(function(m) {
  am.append('line').attr('x1', xM(m)).attr('x2', xM(m)).attr('y1', 679).attr('y2', 661);
  gm.append('text').attr('x', xM(m)).attr('y', 708).attr('text-anchor', 'middle').style('font-size', '29px').text(m);
});
massExps.forEach(function(e) { powText(gm, 1958, yM(Math.pow(10, e)) + 10, e, 29, null); });
gm.append('rect').attr('x', 1967).attr('y', 30).attr('width', 904).attr('height', 649)
  .attr('fill', 'none').attr('stroke', '#000').attr('stroke-width', 1.5);
gm.append('text').attr('x', 2420).attr('y', 750).attr('text-anchor', 'middle').style('font-size', '28px').text('Mass number');
gm.append('text').attr('transform', 'translate(1888,356) rotate(-90)').attr('text-anchor', 'middle').style('font-size', '28px').text('dN/dy');

// ---- notes ----
var gn = svg.append('g');
var noteOpt = { size: 52, anchor: 'start', family: SERIF, gap: 0.5, sub: 0.2, top: 0.66, bot: 0.26, thick: 2.4 };
noteLines.forEach(function(s, i) {
  var y = 808.8 + i * 63.5;
  if (s.indexOf('||') >= 0) {
    var parts = s.split('||');
    rootText(gn, 1898, y, parts[0], parts[1], noteOpt);
  } else {
    gn.append('text').attr('x', 1898).attr('y', y).style('font-size', '52px').style('font-family', SERIF).text(s);
  }
});
noteBullets.forEach(function(i) {
  gn.append('text').attr('x', 1826).attr('y', 808.8 + i * 63.5).style('font-size', '52px').style('font-family', SERIF).text('\u2022');
});

// slide border corners
svg.append('path').attr('d', 'M-3,1346Q6,1384 40,1398').attr('fill', 'none').attr('stroke', '#000').attr('stroke-width', 10);
svg.append('path').attr('d', 'M2957,1300Q2942,1372 2886,1398').attr('fill', 'none').attr('stroke', '#000').attr('stroke-width', 10);
</script>
</body>
</html>
